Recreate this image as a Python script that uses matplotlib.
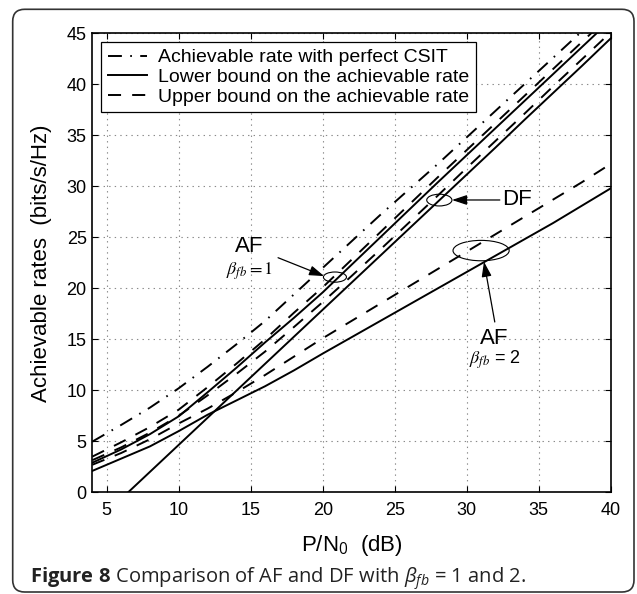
import matplotlib
matplotlib.use("Agg")
import matplotlib.pyplot as plt
from matplotlib.patches import Ellipse, FancyBboxPatch
from matplotlib.transforms import IdentityTransform

# ---------------- data ----------------
snr_db = [4, 6, 8, 10, 12, 14, 16, 18, 20, 22, 24, 26, 28, 30, 32, 34, 36, 38, 40]

rate_csit = [4.97, 6.6, 8.3, 10.2, 12.3, 14.5, 16.8, 19.4, 22.0, 24.6, 27.2, 29.7,
             32.2, 34.8, 37.4, 40.0, 42.6, 45.2, 47.8]
af1_upper = [3.5, 4.9, 6.4, 8.1, 10.3, 12.6, 15.0, 17.6, 20.1, 22.8, 25.5, 28.2,
             30.9, 33.55, 36.2, 38.85, 41.5, 44.15, 46.8]
af1_lower = [2.9, 4.2, 5.7, 7.45, 9.8, 12.2, 14.7, 17.1, 19.6, 22.3, 25.0, 27.7,
             30.4, 33.05, 35.7, 38.35, 41.0, 43.65, 46.3]
df_upper = [3.15, 4.4, 5.85, 7.5, 9.5, 11.6, 13.8, 16.2, 18.65, 21.2, 23.8, 26.45,
            29.1, 31.8, 34.45, 37.1, 39.8, 42.45, 45.1]
df_lower = [-3.3, -0.65, 2.0, 4.65, 7.3, 9.95, 12.6, 15.25, 17.9, 20.55, 23.2, 25.85,
            28.5, 31.15, 33.8, 36.5, 39.15, 41.8, 44.5]
af2_upper = [2.7, 3.85, 5.2, 6.75, 8.2, 9.8, 11.5, 13.3, 15.1, 16.8, 18.5, 20.2,
             21.9, 23.6, 25.3, 27.0, 28.7, 30.4, 32.2]
af2_lower = [2.1, 3.3, 4.5, 6.0, 7.6, 9.0, 10.4, 11.95, 13.6, 15.2, 16.8, 18.4,
             20.0, 21.6, 23.2, 24.8, 26.4, 28.1, 29.8]

x_ticks = [5, 10, 15, 20, 25, 30, 35, 40]
y_ticks = [0, 5, 10, 15, 20, 25, 30, 35, 40, 45]

legend_labels = ["Achievable rate with perfect CSIT",
                 "Lower bound on the achievable rate",
                 "Upper bound on the achievable rate"]
caption = r"$\mathbf{Figure\ 8}$ Comparison of AF and DF with $\beta_{fb}$ = 1 and 2."

# ---------------- styling ----------------
plt.rcParams["font.family"] = ["Liberation Sans", "DejaVu Sans"]
plt.rcParams["lines.scale_dashes"] = False
plt.rcParams["mathtext.fontset"] = "custom"
plt.rcParams["mathtext.rm"] = "Open Sans"
plt.rcParams["mathtext.it"] = "Open Sans:italic"
plt.rcParams["mathtext.bf"] = "Open Sans:bold"

DASH = (0, (9.4, 8.0))
DASHDOT = (0, (10.0, 6.0, 1.2, 6.0))
LW = 1.4

fig = plt.figure(figsize=(6.37, 5.94), dpi=100)
ax = fig.add_axes([0.1449, 0.1712, 0.8138, 0.7727])

ax.plot(snr_db, rate_csit, color="k", lw=LW, linestyle=DASHDOT, label=legend_labels[0])
ax.plot(snr_db, af1_lower, color="k", lw=LW, linestyle="-", label=legend_labels[1])
ax.plot(snr_db, af1_upper, color="k", lw=LW, linestyle=DASH, label=legend_labels[2])
ax.plot(snr_db, df_upper, color="k", lw=LW, linestyle=DASH)
ax.plot(snr_db, df_lower, color="k", lw=LW, linestyle="-")
ax.plot(snr_db, af2_upper, color="k", lw=LW, linestyle=DASH)
ax.plot(snr_db, af2_lower, color="k", lw=LW, linestyle="-")

ax.set_xlim(4, 40)
ax.set_ylim(0, 45)
ax.set_xticks(x_ticks)
ax.set_yticks(y_ticks)
ax.tick_params(direction="in", length=4, width=0.8, top=True, right=True,
               labelsize=13)
ax.tick_params(axis="x", pad=7)
ax.tick_params(axis="y", pad=4)
ax.grid(True, color="#8a8a8a", linestyle=(0, (1, 3)), linewidth=0.8)
for s in ax.spines.values():
    s.set_linewidth(1.2)

ax.set_xlabel(r"P/N$_0$  (dB)", fontsize=16)
ax.set_ylabel("Achievable rates  (bits/s/Hz)", fontsize=16)
ax.xaxis.set_label_coords(0.5, -0.088)
ax.yaxis.set_label_coords(-0.078, 0.5)

leg = ax.legend(loc="upper left", bbox_to_anchor=(0.0, 1.0), borderaxespad=0.45,
                fontsize=14, handlelength=2.0, handletextpad=0.57, labelspacing=0.1,
                borderpad=0.35, fancybox=False, framealpha=1, edgecolor="k")
leg.get_frame().set_linewidth(0.9)

# ellipses
ax.add_patch(Ellipse((20.85, 21.1), 1.6, 1.0, fill=False, lw=0.8, color="k"))
ax.add_patch(Ellipse((28.1, 28.65), 1.75, 1.15, fill=False, lw=0.8, color="k"))
ax.add_patch(Ellipse((31.0, 23.7), 3.9, 2.0, fill=False, lw=0.8, color="k"))

arrow = dict(arrowstyle="-|>,head_length=0.9,head_width=0.3", lw=0.9, color="k",
             shrinkA=0, shrinkB=0)
ax.annotate("", xy=(20.1, 21.2), xytext=(16.9, 23.0), arrowprops=arrow)
ax.annotate("", xy=(28.98, 28.66), xytext=(32.3, 28.66), arrowprops=arrow)
ax.annotate("", xy=(31.2, 22.6), xytext=(31.95, 16.7), arrowprops=arrow)

ax.text(14.9, 24.1, "AF", fontsize=16, ha="center", va="center")
ax.text(14.95, 21.7, r"$\beta_{fb}=1$", fontsize=13, ha="center", va="center",
        math_fontfamily="stix")
ax.text(33.5, 28.66, "DF", fontsize=16, ha="center", va="center")
ax.text(31.9, 15.1, "AF", fontsize=16, ha="center", va="center")
ax.text(31.96, 13.0, r"$\beta_{fb}$ = 2", fontsize=13, ha="center", va="center",
        math_fontfamily="stix")

# caption and outer rounded frame
fig.text(30.5 / 637, 0.019, caption, fontsize=14.5, ha="left", va="baseline",
         family=["Open Sans", "DejaVu Sans"], color="#222222", math_fontfamily="custom")

frame = FancyBboxPatch((12.7, 2.0), 621.3, 582.7, boxstyle="round,pad=0,rounding_size=12",
                       transform=IdentityTransform(), fill=False, lw=1.2, edgecolor="#333333")
fig.add_artist(frame)

fig.savefig("out.png", dpi=100)
